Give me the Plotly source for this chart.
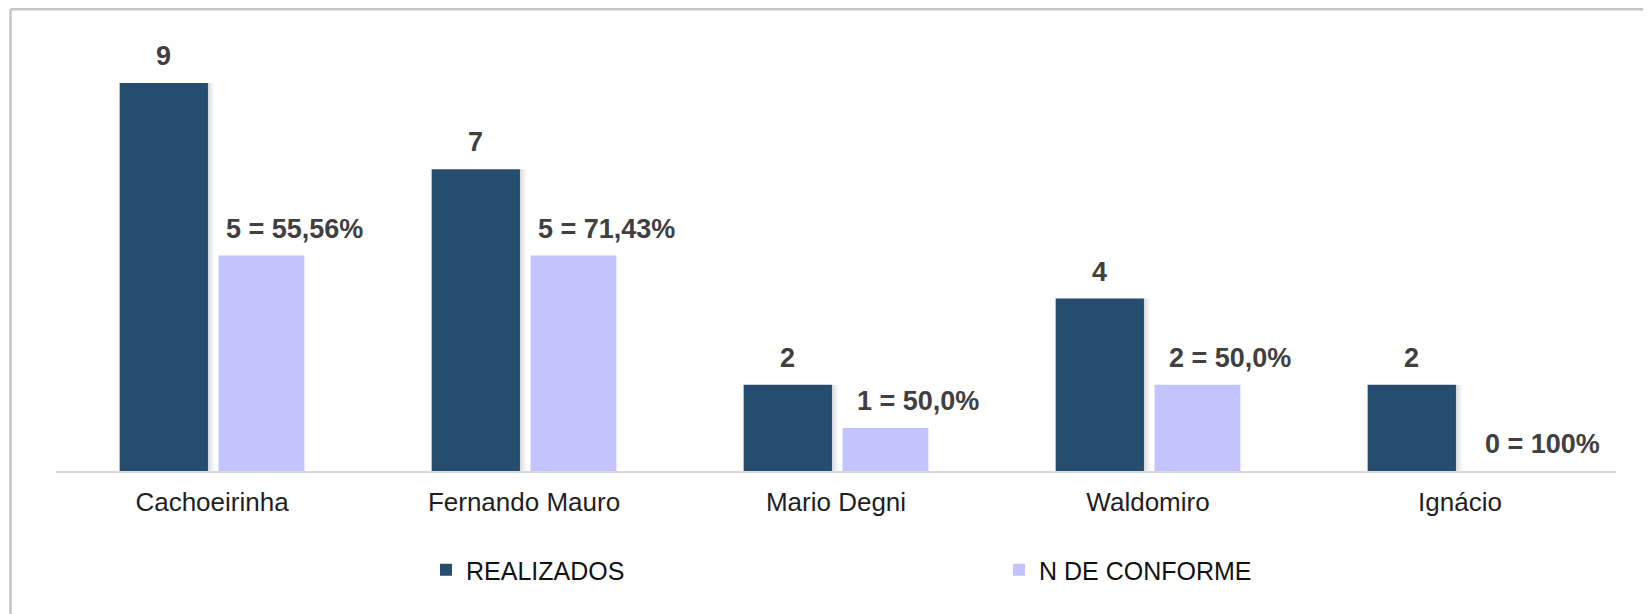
import plotly.graph_objects as go

# ---- data ----
categories = ["Cachoeirinha", "Fernando Mauro", "Mario Degni", "Waldomiro", "Ignácio"]
realizados = [9, 7, 2, 4, 2]
n_conforme = [5, 5, 1, 2, 0]
pct_labels = ["55,56%", "71,43%", "50,0%", "50,0%", "100%"]
series_names = ["REALIZADOS", "N DE CONFORME"]

DARK = "#264C6F"
LIGHT = "#C3C3FF"
LABEL_COLOR = "#404040"
FONT = "Liberation Sans, Arial, sans-serif"

W, H = 1651, 614
ML, MR, MT, MB = 48, 43, 32, 151
plot_w = W - ML - MR
plot_h = H - MT - MB

dark_off, dark_w = -0.296, 0.283
light_off, light_w = 0.021, 0.275

fig = go.Figure()

# soft shadow on the right side of the dark bars
shadow_alphas = [0.16, 0.09, 0.04]
for i, a in enumerate(shadow_alphas):
    fig.add_trace(go.Bar(
        x=categories, y=realizados,
        offset=dark_off + dark_w - 0.004 + i * 0.008, width=0.008,
        marker=dict(color=f"rgba(0,0,0,{a})", line=dict(width=0)),
        showlegend=False, hoverinfo="skip",
    ))

fig.add_trace(go.Bar(
    x=categories, y=realizados, name=series_names[0],
    offset=dark_off, width=dark_w,
    marker=dict(color=DARK, line=dict(width=0)),
))
fig.add_trace(go.Bar(
    x=categories, y=n_conforme, name=series_names[1],
    offset=light_off, width=light_w,
    marker=dict(color=LIGHT, line=dict(width=0)),
))

# value labels
px_per_cat = plot_w / len(categories)
dark_center_px = (dark_off + dark_w / 2) * px_per_cat
light_center_px = (light_off + light_w / 2) * px_per_cat
annotations = []
for c, v in zip(categories, realizados):
    annotations.append(dict(
        x=c, y=v, xref="x", yref="y", text=f"{v}", showarrow=False,
        xanchor="center", yanchor="bottom", xshift=dark_center_px, yshift=10,
        font=dict(family=FONT, size=27, color=LABEL_COLOR, weight="bold"),
    ))
for c, v, p in zip(categories, n_conforme, pct_labels):
    annotations.append(dict(
        x=c, y=v, xref="x", yref="y", text=f"{v} = {p}", showarrow=False,
        xanchor="center", yanchor="bottom", xshift=light_center_px + 33, yshift=10,
        font=dict(family=FONT, size=27, color=LABEL_COLOR, weight="bold"),
    ))

# outer frame (top and left edges visible)
def px_to_paper_x(px):
    return (px - ML) / plot_w

def px_to_paper_y(py):
    return (H - MB - py) / plot_h

frame = dict(color="#C4C4C4", width=2.5)
shapes = [
    dict(type="line", xref="paper", yref="paper",
         x0=px_to_paper_x(2.5), x1=px_to_paper_x(W + 5),
         y0=px_to_paper_y(1.2), y1=px_to_paper_y(1.2), line=frame),
    dict(type="line", xref="paper", yref="paper",
         x0=px_to_paper_x(2.5), x1=px_to_paper_x(2.5),
         y0=px_to_paper_y(1.2), y1=px_to_paper_y(H + 5), line=frame),
]

fig.update_layout(
    width=W, height=H,
    margin=dict(l=ML, r=MR, t=MT, b=MB, pad=0),
    barmode="overlay",
    plot_bgcolor="white", paper_bgcolor="white",
    font=dict(family=FONT, color="#1F1F1F"),
    annotations=annotations,
    shapes=shapes,
    showlegend=True,
    legend=dict(
        orientation="h", x=px_to_paper_x(418), xanchor="left",
        y=px_to_paper_y(539), yanchor="top",
        font=dict(family=FONT, size=25, color="#111111"),
        itemwidth=30, entrywidth=528, entrywidthmode="pixels",
        traceorder="normal", bgcolor="rgba(0,0,0,0)",
    ),
    xaxis=dict(
        type="category", range=[-0.5, 4.5],
        showgrid=False, zeroline=False,
        showline=True, linecolor="#D9D9D9", linewidth=2,
        ticks="", ticklabelstandoff=7,
        tickfont=dict(family=FONT, size=26, color="#1F1F1F"),
        fixedrange=True,
    ),
    yaxis=dict(
        range=[0, 10], visible=False, showgrid=False, zeroline=False,
        fixedrange=True,
    ),
)

fig.write_html("out.html")
